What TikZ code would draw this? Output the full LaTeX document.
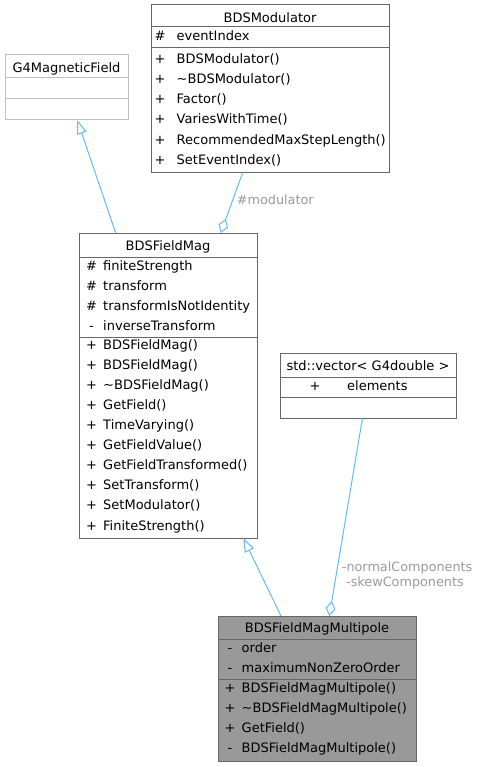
\documentclass[tikz,border=0pt]{standalone}
\usepackage{fontspec}
\setmainfont{DejaVu Sans}
\usetikzlibrary{arrows.meta}

\definecolor{edgeblue}{HTML}{63B8FF}
\definecolor{boxline}{HTML}{666666}
\definecolor{extline}{HTML}{BFBFBF}
\definecolor{curfill}{HTML}{999999}
\definecolor{lblgray}{HTML}{9A9A9A}

\newcommand\umlfont{\fontsize{13}{15}\selectfont}
\newcommand\lblfont{\fontsize{12.8}{15}\selectfont}

\tikzset{
  classbox/.style={draw=boxline, line width=1pt, fill=white, anchor=north west,
    inner sep=0pt, outer sep=0pt},
  extbox/.style={classbox, draw=extline},
  curbox/.style={classbox, fill=curfill},
  sepline/.style={draw=boxline, line width=1pt},
  extsep/.style={draw=extline, line width=1pt},
  ttl/.style={anchor=base, inner sep=0pt, font=\umlfont},
  sgn/.style={anchor=base, inner sep=0pt, font=\umlfont},
  mem/.style={anchor=base west, inner sep=0pt, font=\umlfont},
  elabel/.style={anchor=base west, inner sep=0pt, text=lblgray, font=\lblfont},
  inherit/.style={draw=edgeblue, line width=1pt,
    -{Triangle[fill=white, length=14pt, width=10pt, line width=1pt]}},
  aggr/.style={draw=edgeblue, line width=1pt,
    {Diamond[fill=white, length=15pt, width=10pt, line width=1pt]}-},
}

\begin{document}
\begin{tikzpicture}[x=1pt, y=-1pt]
\useasboundingbox (0,0) rectangle (480,767);

% ---------- G4MagneticField (external) ----------
\node[extbox, minimum width=123pt, minimum height=65pt] (g4) at (5,55) {};
\draw[extsep] (5,78) -- (128,78);
\draw[extsep] (5,99) -- (128,99);
\node[ttl] (g4-t) at (66.5,72.7) {G4MagneticField};

% ---------- BDSModulator ----------
\node[classbox, minimum width=238pt, minimum height=167.5pt] (mod) at (151,5) {};
\draw[sepline] (151,26.5) -- (389,26.5);
\draw[sepline] (151,48) -- (389,48);
\node[ttl] (mod-t) at (270,22.7) {BDSModulator};
\node[sgn] (mod-as) at (160,41) {\#};
\node[mem] (mod-a) at (176.5,41) {eventIndex};
\foreach \n [count=\i from 0] in {BDSModulator(), \textasciitilde BDSModulator(),
    Factor(), VariesWithTime(), RecommendedMaxStepLength(), SetEventIndex()} {
  \node[sgn] (mod-s\i) at (160,63.3+20.2*\i) {+};
  \node[mem] (mod-m\i) at (176.5,63.3+20.2*\i) {\n};
}

% ---------- BDSFieldMag ----------
\node[classbox, minimum width=178pt, minimum height=305pt] (fm) at (79,233) {};
\draw[sepline] (79,257) -- (257,257);
\draw[sepline] (79,337) -- (257,337);
\node[ttl] (fm-t) at (168,250) {BDSFieldMag};
\foreach \s/\n [count=\i from 0] in {\#/finiteStrength, \#/transform,
    \#/transformIsNotIdentity, -/inverseTransform} {
  \node[sgn] (fm-as\i) at (91.5,270+20*\i) {\s};
  \node[mem] (fm-a\i) at (103,270+20*\i) {\n};
}
\foreach \n [count=\i from 0] in {BDSFieldMag(), BDSFieldMag(),
    \textasciitilde BDSFieldMag(), GetField(), TimeVarying(), GetFieldValue(),
    GetFieldTransformed(), SetTransform(), SetModulator(), FiniteStrength()} {
  \node[sgn] (fm-s\i) at (91.5,349.3+20.08*\i) {+};
  \node[mem] (fm-m\i) at (103,349.3+20.08*\i) {\n};
}

% ---------- std::vector< G4double > ----------
\node[classbox, minimum width=176pt, minimum height=65pt] (vec) at (280,353) {};
\draw[sepline] (280,377) -- (456,377);
\draw[sepline] (280,397) -- (456,397);
\node[ttl] (vec-t) at (368,370) {std::vector< G4double >};
\node[sgn] (vec-as) at (315,390) {+};
\node[mem] (vec-a) at (347,390) {elements};

% ---------- BDSFieldMagMultipole ----------
\node[curbox, minimum width=198pt, minimum height=145pt] (mp) at (218,616) {};
\draw[sepline] (218,639) -- (416,639);
\draw[sepline] (218,679) -- (416,679);
\node[ttl] (mp-t) at (317,632.3) {BDSFieldMagMultipole};
\foreach \n [count=\i from 0] in {order, maximumNonZeroOrder} {
  \node[sgn] (mp-as\i) at (230,652.3+20*\i) {-};
  \node[mem] (mp-a\i) at (241.5,652.3+20*\i) {\n};
}
\foreach \s/\n [count=\i from 0] in {+/BDSFieldMagMultipole(),
    +/\textasciitilde BDSFieldMagMultipole(), +/GetField(),
    -/BDSFieldMagMultipole()} {
  \node[sgn] (mp-s\i) at (230,692.3+20*\i) {\s};
  \node[mem] (mp-m\i) at (241.5,692.3+20*\i) {\n};
}

% ---------- relations ----------
\draw[inherit] ([xshift=36.7pt]fm.north west) -- ([xshift=72.3pt]g4.south west);
\draw[aggr] ([xshift=141.7pt]fm.north west) -- ([xshift=91.7pt]mod.south west);
\node[elabel] (modlbl) at (236.7,204.3) {\#modulator};

\draw[inherit] ([xshift=63pt]mp.north west) -- ([xshift=164.3pt]fm.south west);
\draw[aggr] ([xshift=111.3pt]mp.north west) -- ([xshift=82.5pt]vec.south west);
\node[elabel] (complbl1) at (341.7,571.7) {-normalComponents};
\node[elabel] (complbl2) at (346,586.7) {-skewComponents};
\end{tikzpicture}
\end{document}
